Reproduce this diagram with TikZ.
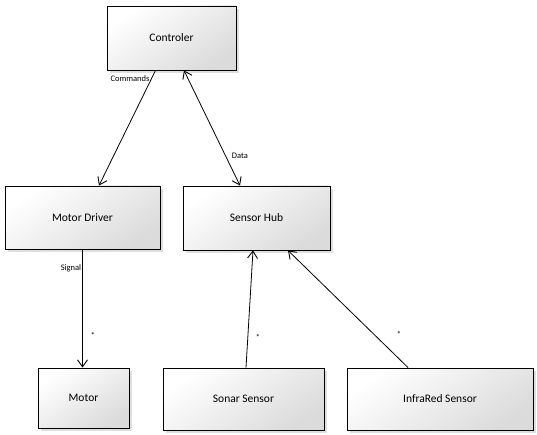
\documentclass[tikz,border=0pt]{standalone}
\usepackage{fontspec}
\setmainfont{Carlito}
\usetikzlibrary{arrows.meta,shadows}
\begin{document}
\begin{tikzpicture}[x=1pt,y=-1pt,
  cls/.style={draw=black, line width=0.9pt, top color=white, bottom color=black!14, shading angle=35,
    drop shadow={opacity=0.25, shadow xshift=3pt, shadow yshift=-3pt},
    font=\fontsize{11.5}{13}\selectfont, inner sep=0pt},
  conn/.style={line width=0.8pt},
  tip/.style={-{Straight Barb[length=7pt,width=10pt,line width=0.9pt]}},
  lbl/.style={font=\fontsize{8.5}{10}\selectfont, inner sep=0pt}]
\useasboundingbox (0,0) rectangle (537,435);
\node[cls, minimum width=129pt, minimum height=64pt] (ctrl) at (171.5,38) {Controler};
\node[cls, minimum width=155pt, minimum height=63pt] (mdrv) at (82.5,217.5) {Motor Driver};
\node[cls, minimum width=147pt, minimum height=64pt] (hub) at (256.5,218) {Sensor Hub};
\node[cls, minimum width=91pt, minimum height=60pt] (motor) at (83.5,398) {Motor};
\node[cls, minimum width=161pt, minimum height=62pt] (sonar) at (243.5,399) {Sonar Sensor};
\node[cls, minimum width=186pt, minimum height=62pt] (ir) at (440,399) {InfraRed Sensor};
\draw[conn, tip] (ctrl.south) ++(-16,0) coordinate (c1) -- ([xshift=16.5pt]mdrv.north);
\draw[conn, {Straight Barb[length=7pt,width=10pt,line width=0.9pt]}-{Straight Barb[length=7pt,width=10pt,line width=0.9pt]}] ([xshift=12.5pt]ctrl.south) -- ([xshift=-16.5pt]hub.north);
\draw[conn, tip] (mdrv.south) -- (motor.north -| mdrv.south);
\draw[conn, tip] ([xshift=2.5pt]sonar.north) -- ([xshift=-3.5pt]hub.south);
\draw[conn, tip] ([xshift=-32pt]ir.north) -- ([xshift=31.5pt]hub.south);
\node[lbl] (lcmd) at (130,79) {Commands};
\node[lbl] (ldata) at (240,156) {Data};
\node[lbl] (lsig) at (71,268) {Signal};
\node[lbl] (s1) at (93,335) {*};
\node[lbl] (s2) at (258,337) {*};
\node[lbl] (s3) at (399,334) {*};
\end{tikzpicture}
\end{document}
